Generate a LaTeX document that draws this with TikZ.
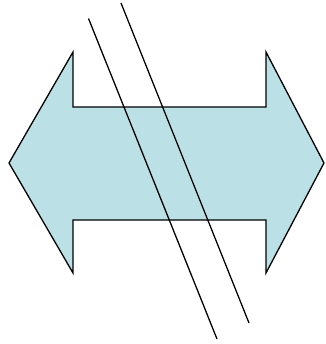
\documentclass[tikz,border=0pt]{standalone}
\usepackage{xcolor}
\usepackage{tikz}
\definecolor{ArrowFill}{HTML}{BBE0E5}
\definecolor{ArrowLine}{HTML}{000000}

\begin{document}
\begin{tikzpicture}[x=0.03cm,y=-0.03cm]
\path[use as bounding box] (0,0) rectangle (325,344);
\filldraw[fill=ArrowFill,draw=ArrowLine,line width=1.1pt,line join=miter]
  (9,163) -- (73,52) -- (73,107) -- (266,107) -- (266,52) -- (324,163)
  -- (266,273) -- (266,220) -- (73,220) -- (73,273) -- cycle;
\coordinate (a1) at (88.5,18.5);
\coordinate (a2) at (217,339);
\coordinate (b1) at (121,3);
\coordinate (b2) at (249,323);
\draw[ArrowLine,line width=1.1pt] (a1) -- (a2);
\draw[ArrowLine,line width=1.1pt] (b1) -- (b2);
\end{tikzpicture}
\end{document}
